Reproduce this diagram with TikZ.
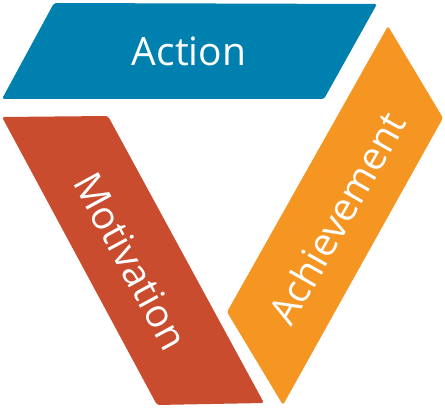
\documentclass[tikz,border=0pt]{standalone}
\usepackage{fontspec}
\setmainfont{Open Sans}
\definecolor{cblue}{RGB}{0,128,175}
\definecolor{cred}{RGB}{200,76,45}
\definecolor{corange}{RGB}{245,150,34}
\tikzset{
  band/.style={rounded corners=2.5pt},
  lbl/.style={text=white, font=\fontsize{39}{45}\selectfont, inner sep=0pt}
}
\begin{document}
\begin{tikzpicture}[x=1pt,y=1pt]
\useasboundingbox (0,0) rectangle (445,-412);
% Action (blue)
\fill[cblue, band] (54,-3) -- (377,-4) -- (324,-99) -- (2,-99) -- cycle;
\node[lbl, anchor=base] (action) at (189,-66) {Action};
% Motivation (red)
\fill[cred, band] (2,-117) -- (108,-116) -- (264,-403) -- (157,-405) -- cycle;
\node[lbl, rotate=-61.5] (motivation) at (131,-261) {Motivation};
% Achievement (orange)
\fill[corange, band] (388,-26) -- (443,-118) -- (283,-405) -- (227,-312) -- cycle;
\node[lbl, rotate=60.5] (achievement) at (337,-218) {Achievement};
\end{tikzpicture}
\end{document}
